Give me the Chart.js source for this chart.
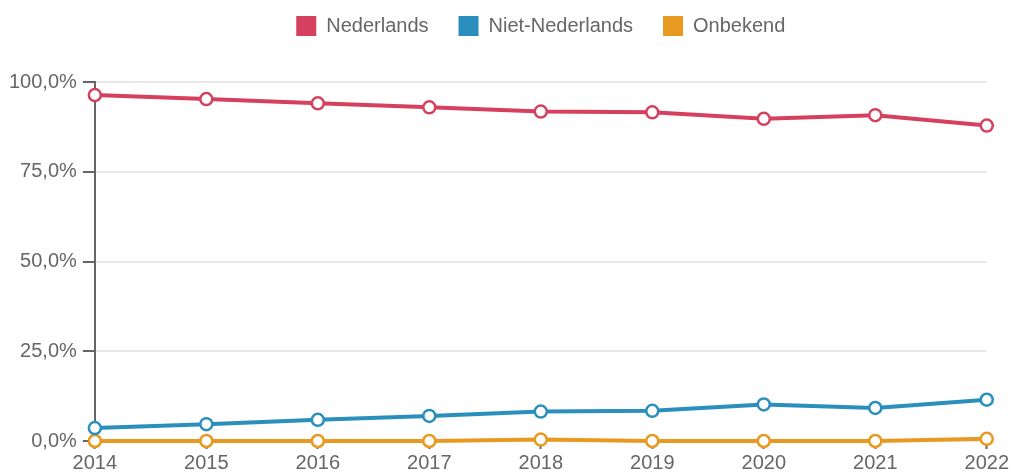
<!DOCTYPE html>
<html>
<head>
<meta charset="utf-8">
<script src="https://cdn.jsdelivr.net/npm/chart.js@4"></script>
<style>
  html, body { margin: 0; padding: 0; background: #fff; }
  #wrap { width: 1011px; height: 472px; }
</style>
</head>
<body>
<div id="wrap"><canvas id="chart"></canvas></div>
<script>
const years = ['2014', '2015', '2016', '2017', '2018', '2019', '2020', '2021', '2022'];
const nederlands = [96.4, 95.3, 94.1, 93.0, 91.8, 91.6, 89.8, 90.8, 87.9];
const nietNederlands = [3.6, 4.7, 5.9, 7.0, 8.2, 8.4, 10.2, 9.2, 11.5];
const onbekend = [0.0, 0.0, 0.0, 0.0, 0.4, 0.0, 0.0, 0.0, 0.6];
const yTicks = [0, 25, 50, 75, 100];

const textColor = '#666';
Chart.defaults.font.family = '"Liberation Sans", Arial, sans-serif';
Chart.defaults.font.size = 20;
Chart.defaults.color = textColor;

function series(label, values, color) {
    return {
        label: label,
        data: values,
        borderColor: color,
        backgroundColor: color,
        borderWidth: 4,
        pointRadius: 6,
        pointHoverRadius: 6,
        pointBorderWidth: 2.5,
        pointBackgroundColor: '#fff',
        pointBorderColor: color,
        tension: 0,
        clip: false
    };
}

const config = {
    type: 'line',
    data: {
        labels: years,
        datasets: [
            series('Nederlands', nederlands, '#d6405f'),
            series('Niet-Nederlands', nietNederlands, '#2a8fbd'),
            series('Onbekend', onbekend, '#e89a20')
        ]
    },
    options: {
        responsive: true,
        maintainAspectRatio: false,
        animation: false,
        layout: { padding: { left: 3, right: 24, top: -14, bottom: -5 } },
        plugins: {
            legend: {
                fullSize: false,
                labels: {
                    boxWidth: 20,
                    boxHeight: 20,
                    padding: 30,
                    generateLabels: (chart) => chart.data.datasets.map((ds, i) => ({
                        text: ds.label,
                        fillStyle: ds.borderColor,
                        strokeStyle: ds.borderColor,
                        lineWidth: 0,
                        fontColor: textColor,
                        datasetIndex: i
                    }))
                }
            },
            // empty spacer between legend and plot area
            subtitle: {
                display: true,
                text: '',
                weight: 500,
                font: { size: 1 },
                padding: { top: 0, bottom: 35 }
            },
            tooltip: { enabled: false }
        },
        scales: {
            x: {
                offset: false,
                grid: {
                    drawOnChartArea: false,
                    tickColor: textColor,
                    tickLength: 8,
                    tickWidth: 2
                },
                border: { display: false },
                ticks: { padding: 2, maxRotation: 0 }
            },
            y: {
                min: 0,
                max: 100,
                afterBuildTicks: (axis) => { axis.ticks = yTicks.map(v => ({ value: v })); },
                grid: {
                    color: '#e8e8e8',
                    lineWidth: 2,
                    tickColor: textColor,
                    tickLength: 12,
                    tickWidth: 2
                },
                border: { display: true, color: textColor, width: 2 },
                ticks: {
                    padding: 6,
                    callback: (v) => v.toFixed(1).replace('.', ',') + '%'
                }
            }
        }
    }
};

new Chart(document.getElementById('chart'), config);
</script>
</body>
</html>
